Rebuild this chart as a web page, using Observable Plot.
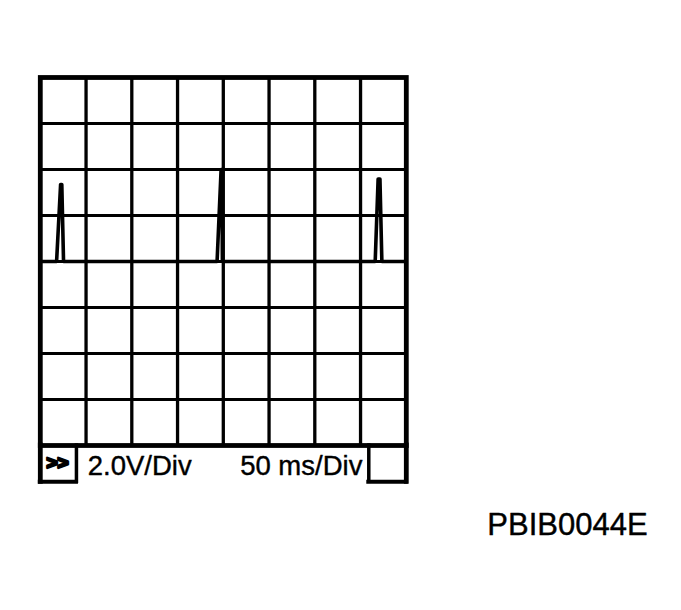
<!DOCTYPE html>
<html>
<head>
<meta charset="utf-8">
<script src="https://cdn.jsdelivr.net/npm/d3@7"></script>
<script src="https://cdn.jsdelivr.net/npm/@observablehq/plot@0.6"></script>
<style>
  html, body { margin: 0; padding: 0; background: #fff; }
  #chart svg { display: block; }
</style>
</head>
<body>
<div id="chart"></div>
<script>
// Oscilloscope graticule: 8 x 8 divisions
const timeTicks = [0, 50, 100, 150, 200, 250, 300, 350, 400];   // ms (50 ms/Div)
const voltTicks = [-8, -6, -4, -2, 0, 2, 4, 6, 8];              // V (2.0 V/Div)

// Trace
const traceTime = [0, 17.8, 22.2, 23.5, 25.4, 193.2, 197.6, 198.5, 199.0, 366.0, 369.2, 371.2, 373.3, 400];
const traceVolt = [0, 0, 3.35, 3.35, 0, 0, 4.0, 4.0, 0, 0, 3.58, 3.58, 0, 0];

// Texts
const chevronLabel = ">>";
const voltLabel = "2.0V/Div";
const timeLabel = "50 ms/Div";
const figureId = "PBIB0044E";

const trace = traceTime.map((t, i) => ({t, v: traceVolt[i]}));

// Layout constants (in scale units) for the status strip and the caption
const stripBottom = -9.58;
const leftBoxEdge = 39.5;
const rightBoxEdge = 359;
const font = "'Liberation Sans', Arial, sans-serif";

const chart = Plot.plot({
  width: 681,
  height: 610,
  marginLeft: 39.8,
  marginRight: 275.2,
  marginTop: 77,
  marginBottom: 165,
  x: {domain: [0, 400], axis: null},
  y: {domain: [-8, 8], axis: null},
  style: {background: "white"},
  marks: [
    Plot.ruleX(timeTicks.slice(1, -1), {stroke: "black", strokeWidth: 3.3}),
    Plot.ruleY(voltTicks.slice(1, -1), {stroke: "black", strokeWidth: 2.8}),
    Plot.line(trace, {x: "t", y: "v", stroke: "black", strokeWidth: 3.6, strokeLinejoin: "round"}),
    Plot.frame({stroke: "black", strokeWidth: 4.8}),
    // status strip below the graticule
    Plot.ruleX([timeTicks[0], timeTicks[timeTicks.length - 1]], {y1: voltTicks[0], y2: stripBottom, stroke: "black", strokeWidth: 4.8, strokeLinecap: "square"}),
    Plot.ruleX([leftBoxEdge, rightBoxEdge], {y1: voltTicks[0], y2: stripBottom, stroke: "black", strokeWidth: 3.5, strokeLinecap: "square"}),
    Plot.ruleY([stripBottom], {x1: timeTicks[0], x2: leftBoxEdge, stroke: "black", strokeWidth: 4, strokeLinecap: "square"}),
    Plot.ruleY([stripBottom], {x1: rightBoxEdge, x2: timeTicks[timeTicks.length - 1], stroke: "black", strokeWidth: 4, strokeLinecap: "square"}),
    Plot.text([chevronLabel], {x: 18.9, y: -8.76, text: d => d, fontSize: 19, fontWeight: "bold", fontFamily: font, fill: "black", stroke: "black", strokeWidth: 2.6, strokeLinejoin: "round", lineAnchor: "middle", letterSpacing: "-1px"}),
    Plot.text([voltLabel], {x: 51.9, y: -9.30, text: d => d, textAnchor: "start", lineAnchor: "bottom", fontSize: 27.5, fontFamily: font, fill: "black", stroke: "black", strokeWidth: 0.4}),
    Plot.text([timeLabel], {x: 352, y: -9.30, text: d => d, textAnchor: "end", lineAnchor: "bottom", fontSize: 27.5, fontFamily: font, fill: "black", stroke: "black", strokeWidth: 0.4}),
    Plot.text([figureId], {x: 488.5, y: -11.91, text: d => d, textAnchor: "start", lineAnchor: "bottom", fontSize: 31, fontFamily: font, fill: "black", stroke: "black", strokeWidth: 0.4})
  ]
});
document.getElementById("chart").appendChild(chart);
</script>
</body>
</html>
